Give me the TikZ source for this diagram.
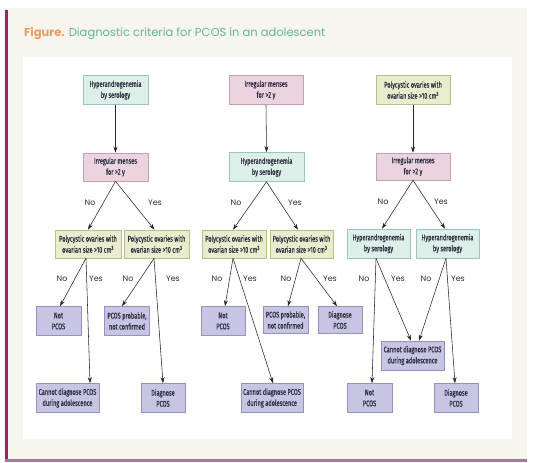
\documentclass[tikz,border=0pt]{standalone}
\usepackage{fontspec}
\setmainfont{Fira Sans}
\newfontfamily\boxfont[FakeStretch=0.68,FakeBold=0.6]{Fira Sans}
\newfontfamily\labfont{Poppins}
\usetikzlibrary{arrows.meta}
\definecolor{cream}{HTML}{F8F5EF}
\definecolor{barL}{HTML}{8A2C5C}
\definecolor{barB}{HTML}{A8789A}
\definecolor{tealF}{HTML}{DDEFE9}
\definecolor{tealD}{HTML}{9DC4B8}
\definecolor{pinkF}{HTML}{EBD4E0}
\definecolor{pinkD}{HTML}{C4A0B6}
\definecolor{yelF}{HTML}{E9ECCD}
\definecolor{yelD}{HTML}{B8BE8C}
\definecolor{lavF}{HTML}{C8C4E4}
\definecolor{lavD}{HTML}{9591C2}
\definecolor{txt}{HTML}{2E2E40}
\definecolor{figO}{HTML}{EE9A5C}
\definecolor{figG}{HTML}{5DBA92}
\tikzset{
  bx/.style={draw, line width=0.6pt, inner sep=0pt, align=center, text=txt,
    font=\boxfont\fontsize{8.3}{11}\selectfont, minimum height=29pt},
  tealbox/.style={bx, fill=tealF, draw=tealD},
  pinkbox/.style={bx, fill=pinkF, draw=pinkD},
  yelbox/.style={bx, fill=yelF, draw=yelD},
  lavbox/.style={bx, fill=lavF, draw=lavD},
  lab/.style={font=\labfont\fontsize{8}{9}\selectfont, text=txt, inner sep=0pt},
  arr/.style={draw=black!85, line width=0.55pt, -{Stealth[length=6pt,width=4pt]}}
}
\begin{document}
\begin{tikzpicture}[x=1pt,y=-1pt]
\useasboundingbox (0,0) rectangle (534,462);
\fill[white] (0,0) rectangle (534,462);
\fill[cream] (5,8) rectangle (527,459);
\fill[barL] (5,10) rectangle (7.5,462);
\fill[barB] (5,459) rectangle (527,462);
\fill[white] (23,57) rectangle (512,439);
\node[anchor=base west, inner sep=0pt, font=\labfont\fontsize{11.5}{13}\selectfont] (title) at (24,37)
  {\textcolor{figO}{\textbf{Figure.}} \textcolor{figG}{Diagnostic criteria for PCOS in an adolescent}};

% column 1
\node[tealbox, minimum width=65pt] (h1) at (115.5,90) {Hyperandrogenemia\\by serology};
\node[pinkbox, minimum width=65pt, minimum height=28pt] (i1) at (115.5,167) {Irregular menses\\for >2 y};
\node[yelbox, minimum width=66pt, minimum height=28pt] (p1a) at (88,244) {Polycystic ovaries with\\ovarian size >10 cm\textsuperscript{3}};
\node[yelbox, minimum width=65pt, minimum height=28pt] (p1b) at (156.5,244) {Polycystic ovaries with\\ovarian size >10 cm\textsuperscript{3}};
\node[lavbox, minimum width=45pt] (n1) at (58.5,321) {Not\\PCOS};
\node[lavbox, minimum width=63pt] (c1) at (67.5,398) {Cannot diagnose PCOS\\during adolescence};
\node[lavbox, minimum width=45pt] (pr1) at (127,321) {PCOS probable,\\not confirmed};
\node[lavbox, minimum width=44pt] (d1) at (163,398) {Diagnose\\PCOS};

% column 2
\node[pinkbox, minimum width=74pt] (i2) at (266,90) {Irregular menses\\for >2 y};
\node[tealbox, minimum width=75pt] (h2) at (266.5,167) {Hyperandrogenemia\\by serology};
\node[yelbox, minimum width=64pt, minimum height=28pt] (p2a) at (234,244) {Polycystic ovaries with\\ovarian size >10 cm\textsuperscript{3}};
\node[yelbox, minimum width=63pt, minimum height=28pt] (p2b) at (301.5,244) {Polycystic ovaries with\\ovarian size >10 cm\textsuperscript{3}};
\node[lavbox, minimum width=44pt] (n2) at (223,321) {Not\\PCOS};
\node[lavbox, minimum width=62pt] (c2) at (272,398) {Cannot diagnose PCOS\\during adolescence};
\node[lavbox, minimum width=45pt, minimum height=27pt] (pr2) at (285.5,320) {PCOS probable,\\not confirmed};
\node[lavbox, minimum width=44pt, minimum height=27pt] (d2) at (340,320) {Diagnose\\PCOS};

% column 3
\node[yelbox, minimum width=74pt] (p3) at (413,90) {Polycystic ovaries with\\ovarian size >10 cm\textsuperscript{3}};
\node[pinkbox, minimum width=74pt, minimum height=27pt] (i3) at (413,166.5) {Irregular menses\\for >2 y};
\node[tealbox, minimum width=63pt] (h3a) at (378.5,243.5) {Hyperandrogenemia\\by serology};
\node[tealbox, minimum width=63pt] (h3b) at (447.5,243.5) {Hyperandrogenemia\\by serology};
\node[lavbox, minimum width=45pt] (n3) at (369.5,398) {Not\\PCOS};
\node[lavbox, minimum width=63pt] (c3) at (412.5,355.5) {Cannot diagnose PCOS\\during adolescence};
\node[lavbox, minimum width=44pt] (d3) at (456,398) {Diagnose\\PCOS};

% arrows column 1
\draw[arr] (h1.south) -- (i1.north);
\draw[arr] (i1.south) -- (p1a.north);
\draw[arr] (i1.south) -- ([xshift=-2pt]p1b.north);
\draw[arr] ([xshift=-2pt]p1a.south) -- ([xshift=1.5pt]n1.north);
\draw[arr] ([xshift=-2pt]p1a.south) -- ([xshift=22.5pt]c1.north);
\draw[arr] ([xshift=-2.5pt]p1b.south) -- ([xshift=-5pt]pr1.north);
\draw[arr] ([xshift=-2.5pt]p1b.south) -- (d1.north);
% arrows column 2
\draw[arr] (i2.south) -- (h2.north);
\draw[arr] (h2.south) -- ([xshift=-1pt]p2a.north);
\draw[arr] (h2.south) -- ([xshift=-3.5pt]p2b.north);
\draw[arr] ([xshift=-1pt]p2a.south) -- ([xshift=2pt]n2.north);
\draw[arr] ([xshift=-1pt]p2a.south) -- ([xshift=1pt]c2.north);
\draw[arr] ([xshift=-0.5pt]p2b.south) -- ([xshift=2.5pt]pr2.north);
\draw[arr] ([xshift=-0.5pt]p2b.south) -- ([xshift=-3pt]d2.north);
% arrows column 3
\draw[arr] (p3.south) -- (i3.north);
\draw[arr] (i3.south) -- ([xshift=3.5pt]h3a.north);
\draw[arr] (i3.south) -- ([xshift=-2.5pt]h3b.north);
\draw[arr] ([xshift=-2.5pt]h3a.south) -- ([xshift=2.5pt]n3.north);
\draw[arr] ([xshift=-2.5pt]h3a.south) -- ([xshift=-1.5pt]c3.north);
\draw[arr] ([xshift=-1.5pt]h3b.south) -- ([xshift=6.5pt]c3.north);
\draw[arr] ([xshift=-1.5pt]h3b.south) -- ([xshift=-1pt]d3.north);

% labels
\node[lab] (l1n) at (90,203) {No};
\node[lab] (l1y) at (155,203) {Yes};
\node[lab] (l2n) at (236,203) {No};
\node[lab] (l2y) at (295,203) {Yes};
\node[lab] (l3n) at (383,202) {No};
\node[lab] (l3y) at (441,202) {Yes};
\node[lab] (m1a) at (62,279) {No};
\node[lab] (m1b) at (96,279) {Yes};
\node[lab] (m1c) at (128,279) {No};
\node[lab] (m1d) at (173,279) {Yes};
\node[lab] (m2a) at (217,279) {No};
\node[lab] (m2b) at (250,279) {Yes};
\node[lab] (m2c) at (286,279) {No};
\node[lab] (m2d) at (330,279) {Yes};
\node[lab] (m3a) at (364,279) {No};
\node[lab] (m3b) at (398,279) {Yes};
\node[lab] (m3c) at (426,279) {No};
\node[lab] (m3d) at (458,279) {Yes};
\end{tikzpicture}
\end{document}
